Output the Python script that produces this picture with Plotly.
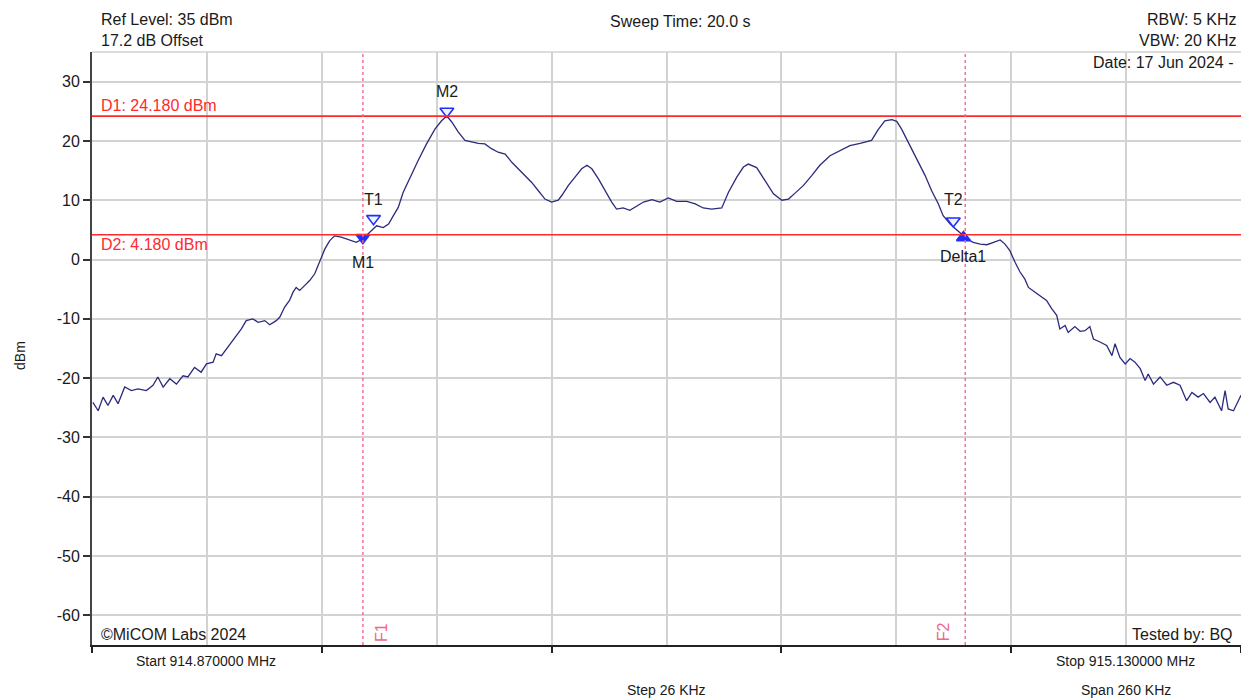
import plotly.graph_objects as go

# ---------------- data ----------------
start_mhz = 914.870
stop_mhz = 915.130
grid_step_khz = 26
tick_step_khz = 52

trace_offset_khz = [
    0.2, 1.4, 2.5, 3.6, 4.8, 5.9, 7.4, 8.9, 10.4, 12.3, 13.8, 14.9,
    16.1, 17.6, 19.1, 20.6, 21.7, 23.2, 24.7, 25.9, 27.4, 28.1, 29.3, 30.4,
    31.5, 32.7, 33.8, 34.9, 36.4, 37.6, 39.1, 40.2, 41.7, 42.5, 43.6, 44.7,
    45.5, 46.2, 47.0, 48.1, 49.3, 50.4, 51.5, 52.7, 53.8, 54.9, 56.4, 57.5,
    58.7, 59.8, 61.3, 62.8,
    64.4, 65.9, 67.1, 68.2, 69.3, 70.4, 72.0, 73.8, 75.7, 77.6, 79.1, 80.3,
    81.4, 82.9, 84.4, 85.9, 87.4, 88.9, 90.4, 91.9, 93.5, 95.0, 96.5, 98.0,
    99.5, 101.0, 102.5, 104.0, 105.5, 106.3, 107.8, 109.3, 110.8, 112.0, 113.1, 114.6,
    116.1, 117.6, 118.7, 120.2, 121.7, 123.3, 124.8, 126.7, 128.5, 130.4, 132.3, 134.6,
    136.5, 138.3, 140.2, 142.5, 144.0, 145.9, 147.4, 148.5, 150.4, 152.3, 154.2, 156.1,
    157.6, 159.1, 161.0, 162.9, 164.7, 167.0, 169.3, 171.5, 173.8, 176.4, 177.9, 179.4,
    181.0, 182.1, 183.2, 184.7, 186.6, 188.5, 190.0, 191.5, 192.6, 194.2, 195.7, 196.4,
    197.2, 197.9,
    199.4, 201.0, 202.5, 204.0, 205.5, 206.6, 207.7, 208.9, 210.0, 211.1, 211.9, 213.4,
    214.5, 216.0, 217.2, 218.3, 219.0, 220.2, 220.9, 222.4, 223.6, 224.7, 225.8, 226.6,
    228.1, 229.6, 230.8, 231.5, 232.6, 233.8, 234.9, 236.0, 237.2, 238.3, 239.0, 240.2,
    241.7, 243.2, 244.7, 246.2, 247.7, 248.9, 250.3, 251.5, 253.0, 254.1, 255.6, 256.4,
    257.1, 258.3, 259.4, 260.0,
]

trace_level_dbm = [
    -24.1, -25.5, -23.2, -24.6, -22.9, -24.3, -21.5, -22.1, -21.8, -22.1, -21.2, -19.8,
    -21.5, -20.1, -21.0, -19.6, -19.8, -18.2, -19.0, -17.6, -17.3, -15.9, -16.2, -15.1,
    -13.9, -12.8, -11.7, -10.3, -10.0, -10.6, -10.3, -11.0, -10.3, -9.7, -8.0, -6.9,
    -5.5, -4.7, -5.2, -4.4, -3.5, -2.4, -0.5, 1.8, 3.2, 4.0, 3.8, 3.5,
    3.2, 2.9, 3.5, 4.6,
    5.7, 5.4, 6.0, 7.4, 8.8, 11.3, 13.9, 16.7, 19.5, 22.0, 23.4, 24.2,
    23.2, 21.5, 20.1, 19.8, 19.6, 19.5, 18.7, 18.1, 17.8, 16.4, 15.3, 14.2,
    13.0, 11.6, 10.2, 9.7, 10.0, 10.8, 12.5, 13.9, 15.3, 15.9, 15.3, 13.6,
    11.6, 9.7, 8.5, 8.7, 8.3, 9.1, 9.7, 10.1, 9.7, 10.4, 9.8, 9.8,
    9.4, 8.7, 8.5, 8.7, 11.3, 13.9, 15.6, 16.1, 15.5, 13.3, 11.1, 10.0,
    10.2, 11.2, 12.5, 14.2, 15.9, 17.5, 18.4, 19.2, 19.6, 20.1, 21.9, 23.4,
    23.6, 23.3, 22.0, 19.8, 17.0, 14.2, 11.6, 9.4, 7.4, 6.0, 5.0, 4.6,
    4.0, 3.5,
    2.9, 2.6, 2.5, 2.9, 3.3, 2.6, 1.5, -0.5, -2.1, -3.3, -4.7, -5.5,
    -6.1, -6.9, -8.3, -9.4, -11.7, -11.1, -12.3, -11.3, -12.1, -12.0, -11.3, -13.4,
    -13.9, -14.5, -16.2, -14.2, -16.5, -17.6, -16.7, -17.3, -18.4, -20.4, -19.3, -21.0,
    -19.8, -21.2, -20.7, -21.2, -23.8, -22.4, -23.2, -22.6, -24.1, -23.2, -25.5, -22.1,
    -25.2, -25.5, -23.8, -22.9,
]

y_tick_values = [30, 20, 10, 0, -10, -20, -30, -40, -50, -60]
y_tick_labels = ["30", "20", "10", "0", "-10", "-20", "-30", "-40", "-50", "-60"]
y_min, y_max = -65, 35

d1_level_dbm = 24.180
d2_level_dbm = 4.180
f1_offset_khz = 61.3
f2_offset_khz = 197.6

marker_names = ["M1", "M2", "T1", "T2", "Delta1"]
marker_offset_khz = [61.3, 80.3, 63.7, 194.9, 197.2]
marker_level_dbm = [3.7, 25.0, 6.9, 6.5, 3.7]

ref_level_text = "Ref Level: 35 dBm"
offset_text = "17.2 dB Offset"
sweep_text = "Sweep Time: 20.0 s"
rbw_text = "RBW: 5 KHz"
vbw_text = "VBW: 20 KHz"
date_text = "Date: 17 Jun 2024 -"
copyright_text = "©MiCOM Labs 2024"
tested_text = "Tested by: BQ"
span_khz = 260

# ---------------- figure ----------------
def to_mhz(k):
    return start_mhz + k / 1000.0

freqs = [to_mhz(k) for k in trace_offset_khz]

FONT = "Liberation Sans, Arial, sans-serif"
TXT = "#1a1a1a"
GRID = "#d2d2d2"
RED = "#ff2a2a"
PINK = "#f0668a"
BLUE = "#1f2fff"

fig = go.Figure()

fig.add_trace(go.Scatter(
    x=freqs, y=trace_level_dbm, mode="lines",
    line=dict(color="#2b2b7c", width=1.3),
    hoverinfo="x+y", showlegend=False,
))

# marker symbols
sym = {
    "M1": ("triangle-down", BLUE, BLUE),
    "M2": ("triangle-down", "#eef3ff", BLUE),
    "T1": ("triangle-down", "#eef3ff", BLUE),
    "T2": ("triangle-down", "#eef3ff", BLUE),
    "Delta1": ("triangle-up", BLUE, BLUE),
}
label_shift = {"M1": -25, "M2": 20, "T1": 19, "T2": 22, "Delta1": -19}

for name, k, lv in zip(marker_names, marker_offset_khz, marker_level_dbm):
    s, fill, edge = sym[name]
    fig.add_trace(go.Scatter(
        x=[to_mhz(k)], y=[lv], mode="markers",
        marker=dict(symbol=s, size=12, color=fill, line=dict(color=edge, width=1.6)),
        showlegend=False, hoverinfo="text", hovertext=name,
    ))

shapes = []
# top border (grid colour)
shapes.append(dict(type="line", xref="paper", yref="paper", x0=0, x1=1, y0=1, y1=1,
                   line=dict(color=GRID, width=1.5), layer="below"))
# display lines
for lv in (d1_level_dbm, d2_level_dbm):
    shapes.append(dict(type="line", xref="paper", yref="y", x0=0, x1=1, y0=lv, y1=lv,
                       line=dict(color=RED, width=1.6)))
# frequency lines
for k in (f1_offset_khz, f2_offset_khz):
    f = to_mhz(k)
    shapes.append(dict(type="line", xref="x", yref="paper", x0=f, x1=f, y0=0, y1=1,
                       line=dict(color=PINK, width=1.4, dash="dot")))

annotations = []

def ann(text, x, y, xanchor="left", size=16, color=TXT, xref="paper", yref="paper",
        yshift=0, xshift=0, textangle=0, yanchor="middle"):
    annotations.append(dict(
        text=text, x=x, y=y, xref=xref, yref=yref, xanchor=xanchor, yanchor=yanchor,
        showarrow=False, font=dict(family=FONT, size=size, color=color),
        yshift=yshift, xshift=xshift, textangle=textangle,
    ))

ann(ref_level_text, 0.0063, 1.0556)
ann(offset_text, 0.0063, 1.0186)
ann(sweep_text, 0.5126, 1.0506, xanchor="center")
ann(rbw_text, 0.9980, 1.0556, xanchor="right")
ann(vbw_text, 0.9980, 1.0186, xanchor="right")
ann(date_text, 0.9960, 0.9830, xanchor="right")
ann(copyright_text, 0.0063, 0.0185)
ann(tested_text, 0.9950, 0.0185, xanchor="right")
ann(f"Start {start_mhz:.6f} MHz", 0.0992, -0.027, xanchor="center", size=14)
ann(f"Stop {stop_mhz:.6f} MHz", 0.8999, -0.027, xanchor="center", size=14)
ann(f"Step {grid_step_khz} KHz", 0.4998, -0.0759, xanchor="center", size=14)
ann(f"Span {span_khz} KHz", 0.8999, -0.0759, xanchor="center", size=14)
ann("dBm", -0.0627, 0.489, xanchor="center", size=14, textangle=-90)

ann(f"D1: {d1_level_dbm:.3f} dBm", 0.0063, d1_level_dbm, yref="y", color=RED, yshift=11)
ann(f"D2: {d2_level_dbm:.3f} dBm", 0.0063, d2_level_dbm, yref="y", color=RED, yshift=-10)

ann("F1", to_mhz(f1_offset_khz), 0.0219, xref="x", xanchor="center", color=PINK,
    xshift=18, textangle=-90)
ann("F2", to_mhz(f2_offset_khz), 0.0219, xref="x", xanchor="center", color=PINK,
    xshift=-22, textangle=-90)

for name, k, lv in zip(marker_names, marker_offset_khz, marker_level_dbm):
    ann(name, to_mhz(k), lv, xref="x", yref="y", xanchor="center", yshift=label_shift[name])

fig.update_layout(
    width=1241, height=700,
    margin=dict(l=92, r=0, t=52, b=55),
    paper_bgcolor="white", plot_bgcolor="white",
    shapes=shapes, annotations=annotations,
    font=dict(family=FONT, color=TXT),
    xaxis=dict(
        range=[start_mhz, stop_mhz],
        tick0=start_mhz, dtick=tick_step_khz / 1000.0,
        ticks="outside", ticklen=6, tickwidth=1.5, tickcolor="#222",
        showticklabels=False,
        showgrid=True, gridcolor=GRID, gridwidth=1.5,
        minor=dict(tick0=start_mhz, dtick=grid_step_khz / 1000.0, showgrid=True,
                   gridcolor=GRID, gridwidth=1.5, ticks=""),
        showline=True, linecolor="#222", linewidth=2,
        zeroline=False,
    ),
    yaxis=dict(
        range=[y_min, y_max],
        tickvals=y_tick_values, ticktext=y_tick_labels,
        ticks="outside", ticklen=7, tickwidth=1.5, tickcolor="#333",
        tickfont=dict(family=FONT, size=16, color=TXT),
        showgrid=True, gridcolor=GRID, gridwidth=1.5,
        showline=True, linecolor="#444", linewidth=2,
        zeroline=False,
    ),
)

fig.write_html("out.html")
